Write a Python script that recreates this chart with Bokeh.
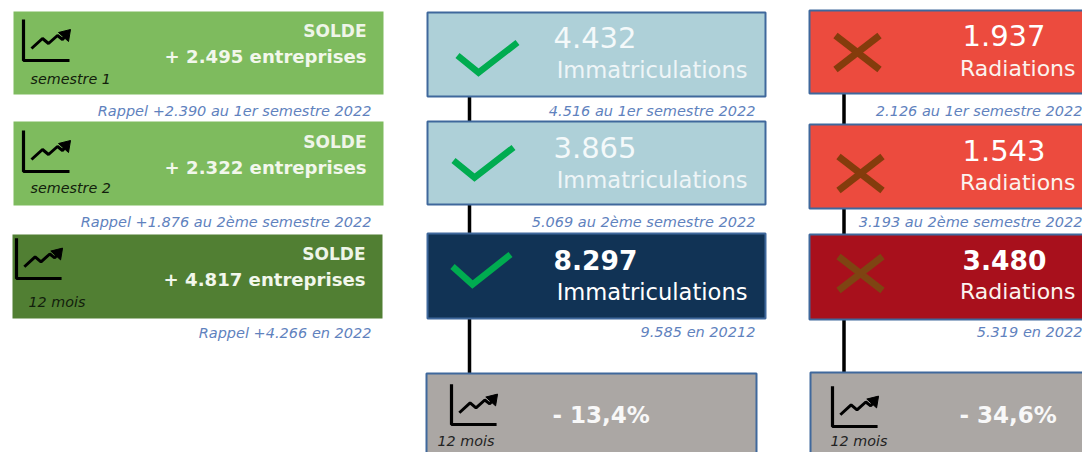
from bokeh.plotting import figure
from bokeh.models import Range1d
from bokeh.core.properties import value
from bokeh.embed import file_html
from bokeh.resources import INLINE

# ---- chart content
solde_titles = ["SOLDE", "SOLDE", "SOLDE"]
solde_values = ["+ 2.495 entreprises", "+ 2.322 entreprises", "+ 4.817 entreprises"]
solde_periods = ["semestre 1", "semestre 2", "12 mois"]
solde_rappels = ["Rappel +2.390 au 1er semestre 2022", "Rappel +1.876 au 2ème semestre 2022", "Rappel +4.266 en 2022"]
immat_values = ["4.432", "3.865", "8.297"]
immat_label = "Immatriculations"
immat_rappels = ["4.516 au 1er semestre 2022", "5.069 au 2ème semestre 2022", "9.585 en 20212"]
radia_values = ["1.937", "1.543", "3.480"]
radia_label = "Radiations"
radia_rappels = ["2.126 au 1er semestre 2022", "3.193 au 2ème semestre 2022", "5.319 en 2022"]
evolution_values = ["- 13,4%", "- 34,6%"]
evolution_period = "12 mois"

FONT = "DejaVu Sans"
RAPPEL = "#5F82BE"
OUTLINE = "#3F689C"

p = figure(width=1082, height=452, output_backend="svg", toolbar_location=None,
           x_range=Range1d(0, 1082), y_range=Range1d(452, 0),
           min_border=0, outline_line_color=None, background_fill_color="white", border_fill_color="white")
p.axis.visible = False
p.grid.visible = False


def box(x0, x1, y0, y1, fill, line=None):
    p.quad(left=[x0], right=[x1], top=[y0], bottom=[y1], fill_color=fill,
           line_color=line, line_width=2 if line else 0)


def txt(x, y, s, size, color, align="right", bold=False, italic=False):
    style = "bold" if bold else ("italic" if italic else "normal")
    p.text(x=[x], y=[y - 1], text=[s], text_font=value(FONT), text_font_size=f"{size}px",
           text_color=color, text_align=align, text_baseline="middle", text_font_style=style)


def icon(ox, oy, s=1.0):
    p.line([ox, ox, ox + 46 * s], [oy - 41 * s, oy, oy], line_color="black", line_width=3.2)
    p.line([ox + 8 * s, ox + 19 * s, ox + 25 * s, ox + 34 * s, ox + 39 * s, ox + 43 * s],
           [oy - 12 * s, oy - 22 * s, oy - 17 * s, oy - 25 * s, oy - 21 * s, oy - 26 * s],
           line_color="black", line_width=3)
    p.patch([ox + 35 * s, ox + 47 * s, ox + 45 * s], [oy - 28 * s, oy - 31 * s, oy - 19 * s], color="black")


def check(x0, y0, x1, y1, x2, y2):
    p.line([x0, x1, x2], [y0, y1, y2], line_color="#00AC50", line_width=6.5, line_join="miter")


def cross(cx, cy, color="#843C0C"):
    p.line([cx - 22, cx + 22], [cy - 17, cy + 17], line_color=color, line_width=7)
    p.line([cx - 22, cx + 22], [cy + 17, cy - 17], line_color=color, line_width=7)


# connectors
for y0, y1 in [(96, 121), (204, 233), (318, 373)]:
    p.line([469, 469], [y0, y1], line_color="black", line_width=3.5)
for y0, y1 in [(93, 124), (208, 234), (319, 372)]:
    p.line([843.5, 843.5], [y0, y1], line_color="black", line_width=3.5)

# left column: solde
solde_boxes = [(13, 383, 11, 94, "#7EBB5E"), (13, 383, 121, 205, "#7EBB5E"), (12, 382, 234, 318, "#517F33")]
solde_icons = [(23, 60, 1.0), (23, 171, 1.0), (16, 278, 0.98)]
solde_y = [(31, 57, 79, 111), (142, 168, 188, 222), (254, 280, 302, 333)]
solde_right = [366, 366, 365]
period_x = [30, 30, 28]
for i in range(3):
    x0, x1, y0, y1, c = solde_boxes[i]
    box(x0, x1, y0, y1, c)
    icon(*solde_icons[i])
    a, b, d, e = solde_y[i]
    txt(solde_right[i], a, solde_titles[i], 17, "#EEF5E8", bold=True)
    txt(solde_right[i], b, solde_values[i], 18.1, "#F2F7EC", bold=True)
    txt(period_x[i], d, solde_periods[i], 14.3, "#12200C", "left", italic=True)
    txt(371, e, solde_rappels[i], 14.5, RAPPEL, italic=True)

# middle column: immatriculations
immat_boxes = [(427, 765, 12, 96, "#AED0D8"), (427, 765, 121, 204, "#AED0D8"), (427, 765, 233, 318, "#113355")]
immat_y = [(38, 70, 111), (148, 180, 222), (260, 292, 332)]
checks = [(457, 55, 478, 72, 517, 42), (453, 160, 474, 177, 513, 147), (452, 266, 472, 284, 510, 254)]
for i in range(3):
    x0, x1, y0, y1, c = immat_boxes[i]
    box(x0, x1, y0, y1, c, OUTLINE)
    check(*checks[i])
    a, b, e = immat_y[i]
    txt(553, a, immat_values[i], 26.5 if i == 2 else 29, "white" if i == 2 else "#F4F9FA", "left", bold=(i == 2))
    txt(747, b, immat_label, 22.6, "white" if i == 2 else "#EEF5F7")
    txt(755, e, immat_rappels[i], 14.5, RAPPEL, italic=True)

# right column: radiations
radia_boxes = [(809, 1090, 10, 93, "#EC4B3E"), (809, 1090, 124, 208, "#EC4B3E"), (809, 1090, 234, 319, "#A8101C")]
radia_y = [(36, 69, 111), (151, 183, 222), (260, 292, 332)]
crosses = [(857, 52, "#843C0C"), (860, 173, "#843C0C"), (860, 273, "#7E4412")]
for i in range(3):
    x0, x1, y0, y1, c = radia_boxes[i]
    box(x0, x1, y0, y1, c, OUTLINE)
    cross(*crosses[i])
    a, b, e = radia_y[i]
    txt(962, a, radia_values[i], 26.5 if i == 2 else 29, "white", "left", bold=(i == 2))
    txt(1075, b, radia_label, 22, "#FBF3EE")
    txt(1082, e, radia_rappels[i], 14.5, RAPPEL, italic=True)

# bottom row: evolution
grey_boxes = [(426, 756, 373, 470), (810, 1090, 372, 470)]
grey_icons = [(451, 424, 0.98), (832, 426, 0.98)]
grey_x = [552, 959]
grey_period_x = [437, 830]
for i in range(2):
    x0, x1, y0, y1 = grey_boxes[i]
    box(x0, x1, y0, y1, "#ABA7A4", OUTLINE)
    icon(*grey_icons[i])
    txt(grey_x[i], 415, evolution_values[i], 23, "#F8F8F8", "left", bold=True)
    txt(grey_period_x[i], 441, evolution_period, 14.3, "#222222", "left", italic=True)

open("out.html", "w").write(file_html(p, INLINE))
